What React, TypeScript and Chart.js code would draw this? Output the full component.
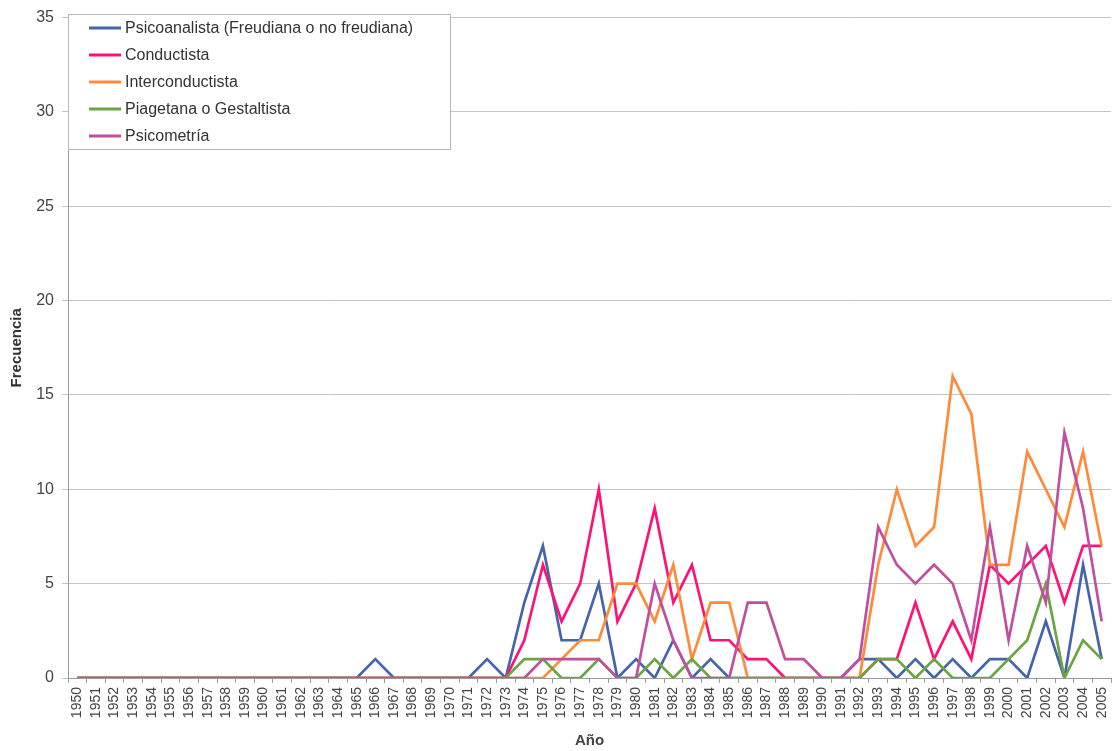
import React, { useEffect, useRef } from "react";
import { Chart, registerables } from "chart.js";

Chart.register(...registerables);

const years = [
  "1950", "1951", "1952", "1953", "1954", "1955", "1956", "1957", "1958", "1959",
  "1960", "1961", "1962", "1963", "1964", "1965", "1966", "1967", "1968", "1969",
  "1970", "1971", "1972", "1973", "1974", "1975", "1976", "1977", "1978", "1979",
  "1980", "1981", "1982", "1983", "1984", "1985", "1986", "1987", "1988", "1989",
  "1990", "1991", "1992", "1993", "1994", "1995", "1996", "1997", "1998", "1999",
  "2000", "2001", "2002", "2003", "2004", "2005",
];

// 1950 ... 2005
const psicoanalista = [
  0, 0, 0, 0, 0, 0, 0, 0, 0, 0,
  0, 0, 0, 0, 0, 0, 1, 0, 0, 0,
  0, 0, 1, 0, 4, 7, 2, 2, 5, 0,
  1, 0, 2, 0, 1, 0, 0, 0, 0, 0,
  0, 0, 1, 1, 0, 1, 0, 1, 0, 1,
  1, 0, 3, 0, 6, 1,
];

const conductista = [
  0, 0, 0, 0, 0, 0, 0, 0, 0, 0,
  0, 0, 0, 0, 0, 0, 0, 0, 0, 0,
  0, 0, 0, 0, 2, 6, 3, 5, 10, 3,
  5, 9, 4, 6, 2, 2, 1, 1, 0, 0,
  0, 0, 0, 1, 1, 4, 1, 3, 1, 6,
  5, 6, 7, 4, 7, 7,
];

const interconductista = [
  0, 0, 0, 0, 0, 0, 0, 0, 0, 0,
  0, 0, 0, 0, 0, 0, 0, 0, 0, 0,
  0, 0, 0, 0, 0, 0, 1, 2, 2, 5,
  5, 3, 6, 1, 4, 4, 0, 0, 0, 0,
  0, 0, 0, 6, 10, 7, 8, 16, 14, 6,
  6, 12, 10, 8, 12, 7,
];

const piagetana = [
  0, 0, 0, 0, 0, 0, 0, 0, 0, 0,
  0, 0, 0, 0, 0, 0, 0, 0, 0, 0,
  0, 0, 0, 0, 1, 1, 0, 0, 1, 0,
  0, 1, 0, 1, 0, 0, 0, 0, 0, 0,
  0, 0, 0, 1, 1, 0, 1, 0, 0, 0,
  1, 2, 5, 0, 2, 1,
];

const psicometria = [
  0, 0, 0, 0, 0, 0, 0, 0, 0, 0,
  0, 0, 0, 0, 0, 0, 0, 0, 0, 0,
  0, 0, 0, 0, 0, 1, 1, 1, 1, 0,
  0, 5, 2, 0, 0, 0, 4, 4, 1, 1,
  0, 0, 1, 8, 6, 5, 6, 5, 2, 8,
  2, 7, 4, 13, 9, 3,
];

const seriesLabels = [
  "Psicoanalista (Freudiana o no freudiana)",
  "Conductista",
  "Interconductista",
  "Piagetana o Gestaltista",
  "Psicometría",
];
const seriesData = [psicoanalista, conductista, interconductista, piagetana, psicometria];
const seriesColors = ["#4565AB", "#FF1276", "#FF8A3A", "#6AA542", "#C24E9E"];

const yMin = 0;
const yMax = 35;
const yStep = 5;
const xTitle = "Año";
const yTitle = "Frecuencia";

const FONT = "'Liberation Sans', Arial, sans-serif";

export default function App() {
  const ref = useRef<HTMLCanvasElement>(null);

  useEffect(() => {
    if (!ref.current) return;

    const boxLegend = {
      id: "boxLegend",
      afterDraw(chart: any) {
        const ctx = chart.ctx;
        const area = chart.chartArea;
        const x0 = area.left;
        const y0 = 14;
        const w = 382;
        const h = 135;
        ctx.save();
        ctx.fillStyle = "#ffffff";
        ctx.fillRect(x0, y0, w, h);
        ctx.strokeStyle = "#b8b8b8";
        ctx.lineWidth = 1;
        ctx.strokeRect(x0 + 0.5, y0 + 0.5, w, h);
        ctx.font = `16px ${FONT}`;
        ctx.textBaseline = "middle";
        ctx.textAlign = "left";
        chart.data.datasets.forEach((ds: any, i: number) => {
          const cy = y0 + 14 + i * 27;
          ctx.strokeStyle = ds.borderColor;
          ctx.lineWidth = 3;
          ctx.beginPath();
          ctx.moveTo(x0 + 21, cy);
          ctx.lineTo(x0 + 53, cy);
          ctx.stroke();
          ctx.fillStyle = "#333333";
          ctx.fillText(ds.label, x0 + 57, cy + 1);
        });
        ctx.restore();
      },
    };

    const chart = new Chart(ref.current, {
      type: "line",
      data: {
        labels: years,
        datasets: seriesData.map((d, i) => ({
          label: seriesLabels[i],
          data: d,
          borderColor: seriesColors[i],
          backgroundColor: seriesColors[i],
          borderWidth: 2.7,
          pointRadius: 0,
          tension: 0,
          fill: false,
          order: seriesData.length - i,
        })),
      },
      options: {
        responsive: false,
        animation: false,
        layout: { padding: { top: 12, right: 1, left: 0, bottom: 0 } },
        plugins: {
          legend: { display: false },
          tooltip: { enabled: false },
        },
        scales: {
          x: {
            type: "category",
            offset: true,
            afterFit: (s: any) => {
              s.height = 73;
              s.paddingRight = 0;
              s.paddingLeft = 0;
            },
            grid: {
              offset: true,
              drawOnChartArea: false,
              drawTicks: true,
              tickLength: 5,
              color: "#9a9a9a",
            },
            border: { color: "#9a9a9a" },
            ticks: {
              autoSkip: false,
              maxRotation: 90,
              minRotation: 90,
              padding: 4,
              color: "#444444",
              font: { family: FONT, size: 14 },
            },
            title: {
              display: true,
              text: xTitle,
              color: "#444444",
              font: { family: FONT, size: 15, weight: "bold" },
              padding: { top: 0, bottom: 1 },
            },
          },
          y: {
            min: yMin,
            max: yMax,
            afterFit: (s: any) => {
              s.width = 68;
            },
            ticks: {
              stepSize: yStep,
              padding: 8,
              color: "#444444",
              font: { family: FONT, size: 16 },
            },
            grid: {
              color: "#c4c4c4",
              tickLength: 6,
              drawTicks: true,
            },
            border: { color: "#9a9a9a" },
            title: {
              display: true,
              text: yTitle,
              color: "#333333",
              font: { family: FONT, size: 15, weight: "bold" },
              padding: { top: 8, bottom: 4 },
            },
          },
        },
      },
      plugins: [boxLegend],
    });

    return () => chart.destroy();
  }, []);

  return (
    <div
      style={{
        position: "fixed",
        left: 0,
        top: 0,
        width: 1112,
        height: 751,
        background: "#ffffff",
      }}
    >
      <canvas ref={ref} width={1112} height={751} />
    </div>
  );
}
